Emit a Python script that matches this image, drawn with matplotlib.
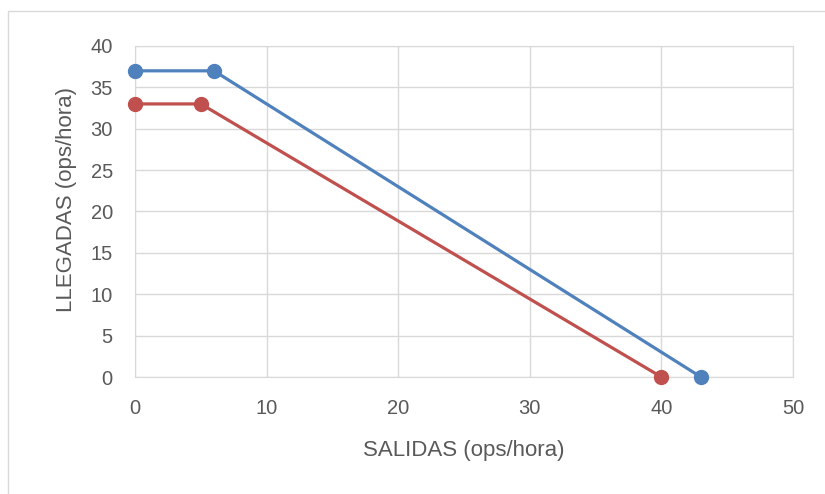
import matplotlib.pyplot as plt
from matplotlib.patches import Rectangle

# data
blue_x = [0, 6, 43]
blue_y = [37, 37, 0]
red_x = [0, 5, 40]
red_y = [33, 33, 0]

plt.rcParams['font.family'] = ['Liberation Sans', 'DejaVu Sans']

fig = plt.figure(figsize=(8.25, 4.94), dpi=100)
# outer chart frame like Excel
fig.patches.append(Rectangle((8 / 825, -0.1), 2, 1 - 11 / 494 + 0.1,
                             transform=fig.transFigure, fill=False,
                             edgecolor='#d9d9d9', linewidth=1))

ax = fig.add_axes([135 / 825, 1 - 377 / 494, (793 - 135) / 825, (377 - 46) / 494])
ax.plot(blue_x, blue_y, color='#4F81BD', lw=2.3, marker='o', ms=10, clip_on=False, zorder=3)
ax.plot(red_x, red_y, color='#C0504D', lw=2.3, marker='o', ms=10, clip_on=False, zorder=3)

ax.set_xlim(0, 50)
ax.set_ylim(0, 40)
ax.set_xticks(range(0, 51, 10))
ax.set_yticks(range(0, 41, 5))
ax.grid(True, color='#d9d9d9', lw=1)
ax.set_axisbelow(True)
for s in ax.spines.values():
    s.set_color('#d9d9d9')
ax.tick_params(length=0, labelsize=14.5, labelcolor='#595959')
ax.tick_params(axis='x', pad=16)
ax.tick_params(axis='y', pad=16)
ax.set_xlabel('SALIDAS (ops/hora)', fontsize=16, color='#595959', labelpad=16)
ax.set_ylabel('LLEGADAS (ops/hora)', fontsize=16, color='#595959')
ax.yaxis.set_label_coords(-0.088, 0.535)

fig.savefig('out.png', dpi=100)
